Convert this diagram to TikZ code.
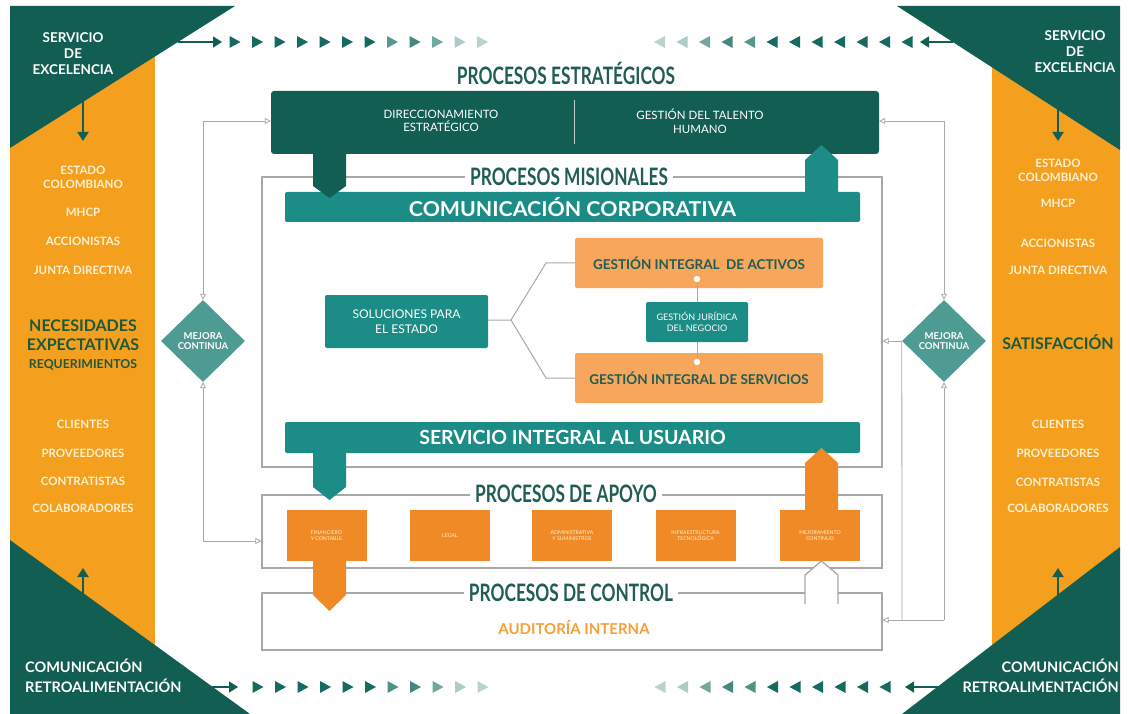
\documentclass[tikz,border=0pt]{standalone}
\usepackage{fontspec}
\setmainfont{Lato}
\usetikzlibrary{shapes.geometric,arrows.meta}
\definecolor{dteal}{HTML}{125E52}
\definecolor{tri}{HTML}{156B5F}
\definecolor{mteal}{HTML}{1C8D86}
\definecolor{dia}{HTML}{4E9B94}
\definecolor{opanel}{HTML}{F59F1F}
\definecolor{olight}{HTML}{F6A75C}
\definecolor{oapo}{HTML}{EF8A26}
\definecolor{ttl}{HTML}{1F5D55}
\definecolor{cream}{HTML}{FDF1CF}
\definecolor{gline}{HTML}{A8A8A8}
\definecolor{necg}{HTML}{1B5A3A}
\definecolor{audit}{HTML}{F3A13A}
\begin{document}
\begin{tikzpicture}[x=1pt,y=-1pt,
  cornertxt/.style={text=white,font=\fontsize{13.5}{16}\selectfont\bfseries,align=center,inner sep=0},
  paneltxt/.style={text=cream,font=\fontsize{11.5}{14}\selectfont\bfseries,align=center,inner sep=0},
  bigtxt/.style={text=necg,font=\fontsize{16}{19}\selectfont\bfseries,align=center,inner sep=0},
  ttlnode/.style={fill=white,text=ttl,font=\fontsize{24}{26}\selectfont\bfseries,inner xsep=5pt,inner ysep=1pt},
  bar/.style={fill=mteal,text=white,font=\fontsize{19.5}{22}\selectfont\bfseries,minimum width=575pt,minimum height=30pt,rounded corners=2pt,inner sep=0},
  frame/.style={draw=gline,line width=1.3pt,inner sep=0},
  apbox/.style={fill=oapo,minimum width=80pt,minimum height=51pt,text=cream,font=\fontsize{5.2}{6.2}\selectfont,align=center,inner sep=0},
  gbox/.style={fill=olight,minimum width=248pt,minimum height=50pt,text=ttl,font=\fontsize{13.5}{16}\selectfont\bfseries,rounded corners=2pt,inner sep=0},
  fb/.style={draw=gline,line width=0.8pt},
  oarr/.style={-{Triangle[open,length=6pt,width=6pt]}},
  dmd/.style={diamond,fill=dia,minimum width=84pt,minimum height=82pt,inner sep=0,text=white,font=\fontsize{9.5}{10.5}\selectfont\bfseries,align=center},
  carr/.style={dteal,line width=2pt,-{Triangle[length=9pt,width=11pt]}}
]
\useasboundingbox (0,0) rectangle (1130,714);
\fill[white] (0,0) rectangle (1130,714);
% side panels
\fill[opanel] (10,6) rectangle (155,714);
\fill[opanel] (992,6) rectangle (1120,714);
\fill[dteal] (10,6) -- (235,6) -- (10,148) -- cycle;
\fill[dteal] (10,540) -- (250,714) -- (10,714) -- cycle;
\fill[dteal] (897,6) -- (1120,6) -- (1120,150) -- cycle;
\fill[dteal] (1120,547) -- (1120,714) -- (902,714) -- cycle;
% corner texts
\node[cornertxt] (tl) at (73,54) {SERVICIO\\DE\\EXCELENCIA};
\node[cornertxt] (tr) at (1075,52) {SERVICIO\\DE\\EXCELENCIA};
\node[cornertxt,align=left,anchor=west,font=\fontsize{14.5}{20}\selectfont\bfseries] (bl) at (25,676) {COMUNICACIÓN\\RETROALIMENTACIÓN};
\node[cornertxt,align=right,anchor=east,font=\fontsize{14.5}{20}\selectfont\bfseries] (br) at (1119,676) {COMUNICACIÓN\\RETROALIMENTACIÓN};
% corner arrows
\draw[carr] (83,100) -- (83,141);
\draw[carr] (1058,108) -- (1058,141);
\draw[carr] (83,597) -- (83,568);
\draw[carr] (1058,597) -- (1058,568);
\draw[carr,line width=1.6pt] (178,42) -- (222,42);
\draw[carr,line width=1.6pt] (953,42) -- (920,42);
\draw[carr,line width=1.6pt] (210,687) -- (238,687);
\draw[carr,line width=1.6pt] (940,687) -- (905,687);
% triangle rows
\foreach \i/\p in {0/100,1/100,2/100,3/100,4/100,5/100,6/100,7/70,8/80,9/60,10/35,11/30}{
  \fill[tri!\p!white] ({235+22.5*\i-5.5},36) -- ({235+22.5*\i+5.5},42) -- ({235+22.5*\i-5.5},48) -- cycle;
  \fill[tri!\p!white] ({907-22.5*\i+5.5},36) -- ({907-22.5*\i-5.5},42) -- ({907-22.5*\i+5.5},48) -- cycle;
}
\foreach \i/\p in {0/100,1/100,2/100,3/100,4/100,5/100,6/75,7/80,8/60,9/35,10/30}{
  \fill[tri!\p!white] ({258+22.5*\i-5.5},681) -- ({258+22.5*\i+5.5},687) -- ({258+22.5*\i-5.5},693) -- cycle;
  \fill[tri!\p!white] ({885-22.5*\i+5.5},681) -- ({885-22.5*\i-5.5},687) -- ({885-22.5*\i+5.5},693) -- cycle;
}
% panel texts left
\node[paneltxt] (l1) at (83,177) {ESTADO\\COLOMBIANO};
\node[paneltxt] (l2) at (83,212) {MHCP};
\node[paneltxt] (l3) at (83,241) {ACCIONISTAS};
\node[paneltxt] (l4) at (83,270) {JUNTA DIRECTIVA};
\node[bigtxt] (l5) at (83,326) {NECESIDADES};
\node[bigtxt] (l6) at (83,345) {EXPECTATIVAS};
\node[bigtxt,font=\fontsize{12.3}{14}\selectfont\bfseries] (l7) at (83,365) {REQUERIMIENTOS};
\node[paneltxt] (l8) at (83,424) {CLIENTES};
\node[paneltxt] (l9) at (83,453) {PROVEEDORES};
\node[paneltxt] (l10) at (83,481) {CONTRATISTAS};
\node[paneltxt] (l11) at (83,508) {COLABORADORES};
% panel texts right
\node[paneltxt] (r1) at (1058,170) {ESTADO\\COLOMBIANO};
\node[paneltxt] (r2) at (1058,203) {MHCP};
\node[paneltxt] (r3) at (1058,243) {ACCIONISTAS};
\node[paneltxt] (r4) at (1058,270) {JUNTA DIRECTIVA};
\node[bigtxt] (r5) at (1058,342) {SATISFACCIÓN};
\node[paneltxt] (r8) at (1058,424) {CLIENTES};
\node[paneltxt] (r9) at (1058,453) {PROVEEDORES};
\node[paneltxt] (r10) at (1058,482) {CONTRATISTAS};
\node[paneltxt] (r11) at (1058,508) {COLABORADORES};
% frames
\node[frame,minimum width=620pt,minimum height=290pt] (mis) at (572,322) {};
\node[frame,minimum width=620pt,minimum height=73pt] (apo) at (572,531.5) {};
\node[frame,minimum width=620pt,minimum height=57pt] (ctl) at (572,621.5) {};
% estrategicos
\node[ttlnode,fill=none] (tE) at (566,73) {\scalebox{0.72}[1]{PROCESOS ESTRATÉGICOS}};
\node[fill=dteal,minimum width=608pt,minimum height=63pt,rounded corners=3pt,inner sep=0] (estr) at (575,122.5) {};
\draw[white!70!dteal,line width=0.8pt] (574,100) -- (574,144);
\node[text=white,font=\fontsize{11.5}{13.5}\selectfont,align=center] (e1) at (441,121) {DIRECCIONAMIENTO\\ESTRATÉGICO};
\node[text=white,font=\fontsize{11.5}{13.5}\selectfont,align=center] (e2) at (700,121) {GESTIÓN DEL TALENTO\\HUMANO};
% bars
\node[bar,font=\fontsize{20.5}{22}\selectfont\bfseries] (com) at (572.5,207) {\scalebox{1.04}[1]{COMUNICACIÓN CORPORATIVA}};
\node[bar,minimum height=31pt] (serv) at (572.5,437.5) {SERVICIO INTEGRAL AL USUARIO};
% arrows between levels
\fill[dteal] (313,150) -- (346,150) -- (346,186) -- (329.5,198) -- (313,186) -- cycle;
\fill[mteal] (805,195) -- (805,160) -- (821.5,145) -- (838,160) -- (838,195) -- cycle;
\node[ttlnode] (tM) at (569,177) {\scalebox{0.72}[1]{PROCESOS MISIONALES}};
% misionales content
\node[fill=mteal,minimum width=163pt,minimum height=53pt,rounded corners=2pt,inner sep=0,text=white,font=\fontsize{12}{14.5}\selectfont,align=center] (sol) at (406.5,321.5) {SOLUCIONES PARA\\EL ESTADO};
\node[gbox] (act) at (699,263) {GESTIÓN INTEGRAL \ DE ACTIVOS};
\node[gbox] (ser2) at (699,378) {GESTIÓN INTEGRAL DE SERVICIOS};
\coordinate (j1) at (697,279);
\coordinate (j2) at (697,362);
\draw[gline,line width=1pt] (j1) -- (j2);
\node[fill=mteal,minimum width=102pt,minimum height=40pt,rounded corners=1.5pt,inner sep=0,text=white,font=\fontsize{9}{10.5}\selectfont,align=center] (jur) at (697,322) {GESTIÓN JURÍDICA\\DEL NEGOCIO};
\fill[white] (j1) circle (3.2pt) (j2) circle (3.2pt);
\coordinate (sp) at (511,320);
\draw[gline,line width=1pt] (sol.east |- sp) -- (sp) -- (546,263) -- (act.west);
\draw[gline,line width=1pt] (sp) -- (546,378) -- (ser2.west);
% apoyo
\fill[mteal] (313,450) -- (346,450) -- (346,487) -- (329.5,500) -- (313,487) -- cycle;
\fill[oapo] (805,512) -- (805,463) -- (821.5,448) -- (838,463) -- (838,512) -- cycle;
\node[ttlnode] (tA) at (566,494) {\scalebox{0.72}[1]{PROCESOS DE APOYO}};
\node[apbox] (a1) at (326.5,535.5) {FINANCIERO\\Y CONTABLE};
\node[apbox] (a2) at (450,535.5) {LEGAL};
\node[apbox] (a3) at (572,535.5) {ADMINISTRATIVA\\Y SUMINISTROS};
\node[apbox] (a4) at (695.5,535.5) {INFRAESTRUCTURA\\TECNOLÓGICA};
\node[apbox] (a5) at (820,535.5) {MEJORAMIENTO\\CONTINUO};
% control
\fill[oapo] (313,558) -- (346,558) -- (346,595) -- (329.5,611) -- (313,595) -- cycle;
\node[ttlnode] (tC) at (571,593) {\scalebox{0.72}[1]{PROCESOS DE CONTROL}};
\filldraw[fill=white,draw=gline,line width=1.3pt] (805,604) -- (805,575) -- (821.5,561) -- (838,575) -- (838,604);
\node[text=audit,font=\fontsize{15}{18}\selectfont\bfseries] (aud) at (574,628) {AUDITORÍA INTERNA};
% feedback left
\node[dmd] (dl) at (203,341) {MEJORA\\CONTINUA};
\coordinate (lt) at (203,121);
\coordinate (lb) at (203,541);
\draw[fb,oarr] (lt) -- (estr.west |- lt);
\draw[fb,oarr] (lt) -- (dl.north);
\draw[fb,oarr] (lb) -- (dl.south);
\draw[fb,oarr] (lb) -- (apo.west |- lb);
% feedback right
\node[dmd] (dr) at (944,341) {MEJORA\\CONTINUA};
\coordinate (rt) at (944,121);
\coordinate (rb) at (944,620);
\coordinate (rv) at (902,620);
\draw[fb,oarr] (rt) -- (estr.east |- rt);
\draw[fb,oarr] (rt) -- (dr.north);
\draw[fb,oarr] (dr.west) -- (mis.east |- dr.west);
\draw[fb] (dr.west) -- (rv);
\draw[fb,oarr] (rb) -- (dr.south);
\draw[fb,oarr] (rb) -- (ctl.east |- rb);
\end{tikzpicture}
\end{document}
